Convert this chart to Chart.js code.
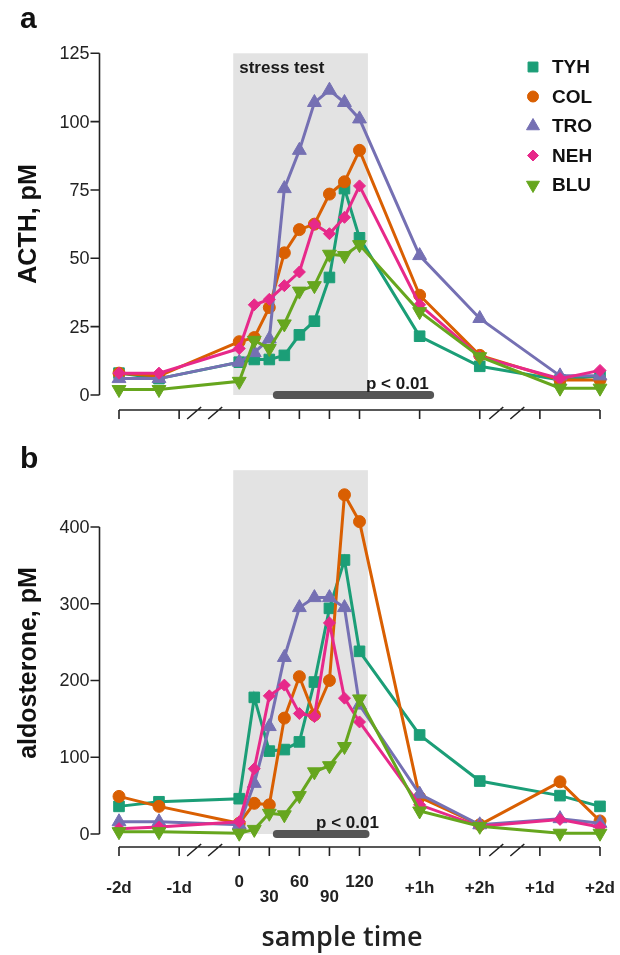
<!DOCTYPE html>
<html>
<head>
<meta charset="utf-8">
<script src="https://cdn.jsdelivr.net/npm/chart.js@4.4.0/dist/chart.umd.min.js"></script>
<style>
  html, body { margin: 0; padding: 0; background: #fff; }
  #wrap { position: relative; width: 620px; height: 955px; }
  canvas { position: absolute; left: 0; }
</style>
</head>
<body>
<div id="wrap">
  <canvas id="acth" width="620" height="440" style="top:0"></canvas>
  <canvas id="aldo" width="620" height="515" style="top:440px"></canvas>
</div>
<script>
// x is in half-hour steps, 0 = start of the stress test; days/hours squeezed in around it
var sampleX = [-4, -2.67, 0, 0.5, 1, 1.5, 2, 2.5, 3, 3.5, 4, 6, 8, 10.67, 12];
var tickX = [-4, -2, 0, 1, 2, 3, 4, 6, 8, 10, 12];
var tickLabels = ['-2d', '-1d', '0', '30', '60', '90', '120', '+1h', '+2h', '+1d', '+2d'];
var breakX = [-1.5, -0.8, 8.55, 9.25];
var stressWindow = [-0.2, 4.28];

var names = ['TYH', 'COL', 'TRO', 'NEH', 'BLU'];
var colors = ['#1b9e77', '#d95f02', '#7570b3', '#e7298a', '#66a61e'];

var acthTYH = [8, 6, 12, 13, 13, 14.5, 22, 27, 43, 75.5, 57.5, 21.5, 10.5, 5.5, 7];
var acthCOL = [8, 7, 19.5, 21, 32, 52, 60.5, 62.5, 73.5, 78, 89.5, 36.5, 14.5, 5.5, 5.5];
var acthTRO = [6, 6, 12, 15.5, 20.5, 75.5, 89.5, 107, 111.5, 107, 101, 51, 28, 7, 7];
var acthNEH = [8, 8, 17, 33, 35, 40, 45, 62.5, 59, 65, 76.5, 33, 14, 6, 9];
var acthBLU = [2, 2, 5, 20, 17, 26, 38, 40, 51.5, 51, 55, 30.5, 14, 2.5, 2.5];
var acthTicks = [0, 25, 50, 75, 100, 125];

var aldoTYH = [36, 42, 46, 178, 108, 110, 120, 198, 294, 357, 238, 129, 69, 50, 36];
var aldoCOL = [49, 36, 14, 40, 38, 151, 205, 155, 200, 442, 407, 48, 12, 68, 17];
var aldoTRO = [16, 16, 12, 66, 140, 230, 295, 308, 308, 295, 168, 52, 12, 20, 14];
var aldoNEH = [7, 9, 16, 85, 180, 194, 157, 153, 275, 177, 146, 38, 10, 19, 9];
var aldoBLU = [3, 3, 1, 6, 27, 25, 50, 81, 89, 114, 176, 30, 10, 1, 1];
var aldoTicks = [0, 100, 200, 300, 400];

// significance bars (x range)
var acthSig = [1.25, 6.35];
var aldoSig = [1.25, 4.2];

var styles = ['rect', 'circle', 'triangle', 'rectRot', 'triangle'];
var radii = [7.5, 6, 8, 6, 8];
var rotations = [0, 0, 0, 0, 180];

var FONT = '"Liberation Sans", Arial, sans-serif';

function buildSets(series) {
  return series.map(function (vals, i) {
    return {
      label: names[i],
      data: vals.map(function (v, j) { return { x: sampleX[j], y: v }; }),
      borderColor: colors[i],
      backgroundColor: colors[i],
      borderWidth: 3,
      pointStyle: styles[i],
      pointRadius: radii[i],
      pointRotation: rotations[i],
      pointBorderWidth: 1,
      pointHoverRadius: radii[i],
      showLine: true,
      clip: false,
      order: 4 - i
    };
  });
}

function marker(ctx, i, x, y, r) {
  ctx.fillStyle = colors[i];
  ctx.strokeStyle = colors[i];
  ctx.lineWidth = 1;
  Chart.helpers.drawPoint(ctx, {
    pointStyle: styles[i], radius: r, rotation: rotations[i], borderWidth: 1
  }, x, y);
}

var framePlugin = {
  id: 'frame',
  beforeDatasetsDraw: function (chart, args, o) {
    var ctx = chart.ctx, sx = chart.scales.x, sy = chart.scales.y;
    ctx.save();
    // stress test window
    var l = sx.getPixelForValue(stressWindow[0]), r = sx.getPixelForValue(stressWindow[1]);
    var t = sy.getPixelForValue(o.shadeTop), b = sy.getPixelForValue(0);
    ctx.fillStyle = '#e3e3e3';
    ctx.fillRect(l, t, r - l, b - t);
    if (o.stressLabel) {
      ctx.fillStyle = '#1a1a1a';
      ctx.font = 'bold 17px ' + FONT;
      ctx.textAlign = 'left';
      ctx.textBaseline = 'middle';
      ctx.fillText('stress test', l + 6, t + 15);
    }
    // p < 0.01 bar
    ctx.strokeStyle = '#555';
    ctx.lineWidth = 8;
    ctx.lineCap = 'round';
    ctx.beginPath();
    ctx.moveTo(sx.getPixelForValue(o.sig[0]), b);
    ctx.lineTo(sx.getPixelForValue(o.sig[1]), b);
    ctx.stroke();
    ctx.fillStyle = '#1a1a1a';
    ctx.font = 'bold 17px ' + FONT;
    ctx.textAlign = 'center';
    ctx.textBaseline = 'alphabetic';
    ctx.fillText('p < 0.01', sx.getPixelForValue(o.sigLabelX), b - 6);
    ctx.restore();
  },
  afterDraw: function (chart, args, o) {
    var ctx = chart.ctx, sx = chart.scales.x, sy = chart.scales.y;
    ctx.save();
    ctx.strokeStyle = '#222';
    ctx.fillStyle = '#222';
    ctx.lineWidth = 1.6;
    ctx.lineCap = 'butt';

    // y axis, only up to the last tick
    var ax = 99.5;
    var y0 = sy.getPixelForValue(0);
    ctx.beginPath();
    ctx.moveTo(ax, y0);
    ctx.lineTo(ax, sy.getPixelForValue(o.yTicks[o.yTicks.length - 1]));
    o.yTicks.forEach(function (v) {
      var py = sy.getPixelForValue(v);
      ctx.moveTo(ax - 9, py);
      ctx.lineTo(ax, py);
    });
    ctx.stroke();
    ctx.font = '18px ' + FONT;
    ctx.textAlign = 'right';
    ctx.textBaseline = 'middle';
    o.yTicks.forEach(function (v) {
      ctx.fillText(String(v), ax - 10, sy.getPixelForValue(v) + 1);
    });

    // x axis, drawn below the plot with breaks
    var ay = y0 + o.xGap;
    ctx.beginPath();
    ctx.moveTo(sx.getPixelForValue(tickX[0]), ay);
    ctx.lineTo(sx.getPixelForValue(tickX[tickX.length - 1]), ay);
    tickX.forEach(function (v) {
      var px = sx.getPixelForValue(v);
      ctx.moveTo(px, ay);
      ctx.lineTo(px, ay + 9);
    });
    breakX.forEach(function (v) {
      var px = sx.getPixelForValue(v);
      ctx.moveTo(px - 7, ay + 9);
      ctx.lineTo(px + 7, ay - 3);
    });
    ctx.stroke();

    if (o.xLabels) {
      ctx.font = 'bold 17px ' + FONT;
      ctx.textAlign = 'center';
      ctx.textBaseline = 'middle';
      tickX.forEach(function (v, i) {
        var dy = 0;
        if (v >= 0 && v <= 4) dy = (v % 2 === 1) ? 9 : -6;
        ctx.fillText(tickLabels[i], sx.getPixelForValue(v), ay + 41 + dy);
      });
      ctx.font = '600 27px "Open Sans", sans-serif';
      ctx.fillText('sample time', 342, ay + 91);
    }

    // panel letter and y title
    ctx.fillStyle = '#111';
    ctx.font = 'bold 30px ' + FONT;
    ctx.textAlign = 'left';
    ctx.textBaseline = 'alphabetic';
    ctx.fillText(o.letter, 20, 28);
    ctx.save();
    ctx.translate(29, o.titleY);
    ctx.rotate(-Math.PI / 2);
    ctx.font = 'bold 25px ' + FONT;
    ctx.textAlign = 'center';
    ctx.textBaseline = 'middle';
    ctx.fillText(o.title, 0, 0);
    ctx.restore();

    // legend
    if (o.legend) {
      names.forEach(function (n, i) {
        var ly = 67 + i * 29.5;
        marker(ctx, i, 533, ly, radii[i] - 0.5);
        ctx.fillStyle = '#111';
        ctx.font = 'bold 19px ' + FONT;
        ctx.textAlign = 'left';
        ctx.textBaseline = 'middle';
        ctx.fillText(n, 552, ly + 1);
      });
    }
    ctx.restore();
  }
};

function makeChart(id, series, yMax, pad, frame) {
  return new Chart(document.getElementById(id).getContext('2d'), {
    type: 'scatter',
    data: { datasets: buildSets(series) },
    options: {
      responsive: false,
      devicePixelRatio: 1,
      animation: false,
      layout: { padding: pad },
      scales: {
        x: { type: 'linear', min: -4, max: 12, display: false },
        y: { type: 'linear', min: 0, max: yMax, display: false }
      },
      plugins: {
        legend: { display: false },
        tooltip: { enabled: false },
        frame: frame
      }
    },
    plugins: [framePlugin]
  });
}

makeChart('acth', [acthTYH, acthCOL, acthTRO, acthNEH, acthBLU], 125,
  { left: 119, right: 20, top: 53.3, bottom: 45 },
  { shadeTop: 125, stressLabel: true, sig: acthSig, sigLabelX: 5.26, yTicks: acthTicks,
    xGap: 15, xLabels: false, letter: 'a', title: 'ACTH, pM', titleY: 224, legend: true });

// value range runs past the last tick so the shaded window and the 442 peak sit inside the plot
makeChart('aldo', [aldoTYH, aldoCOL, aldoTRO, aldoNEH, aldoBLU], 474,
  { left: 119, right: 20, top: 30.2, bottom: 121 },
  { shadeTop: 474, stressLabel: false, sig: aldoSig, sigLabelX: 3.6, yTicks: aldoTicks,
    xGap: 13, xLabels: true, letter: 'b', title: 'aldosterone, pM', titleY: 223, legend: false });
</script>
</body>
</html>
